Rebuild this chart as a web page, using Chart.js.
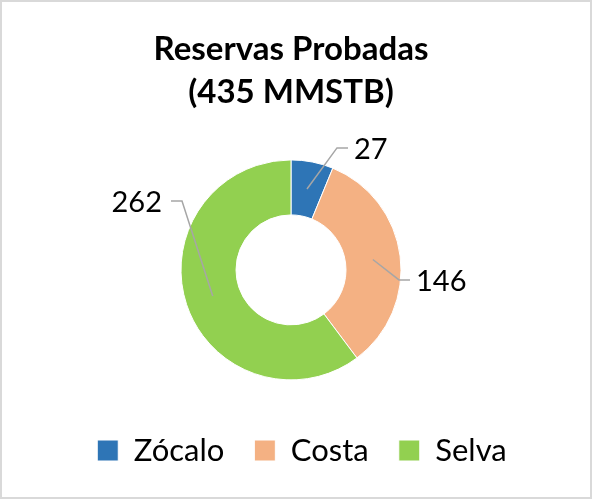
<!DOCTYPE html>
<html>
<head>
<meta charset="utf-8">
<script src="https://cdn.jsdelivr.net/npm/chart.js@4"></script>
<style>
  html, body { margin: 0; padding: 0; background: #fff; }
  #wrap { width: 592px; height: 499px; position: relative; }
</style>
</head>
<body>
<div id="wrap"><canvas id="chart" width="592" height="499"></canvas></div>
<script>
const regions = ['Zócalo', 'Costa', 'Selva'];
const reserves = [27, 146, 262];
const sliceColors = ['#2E75B6', '#F4B183', '#92D050'];
const titleLines = ['Reservas Probadas', '(435 MMSTB)'];

// elbow position of each leader line, relative to the donut centre
const leaderElbows = [[46, -122], [108, 10], [-109, -69]];

const fontFamily = 'Lato, "Noto Sans", sans-serif';

const frameBorder = {
    id: 'frameBorder',
    afterDraw(chart) {
        const ctx = chart.ctx;
        ctx.save();
        ctx.strokeStyle = '#d9d9d9';
        ctx.lineWidth = 2;
        ctx.strokeRect(1, 1, chart.width - 2, chart.height - 2);
        ctx.restore();
    }
};

// the legend sits a bit right of the donut in the original
const legendShift = {
    id: 'legendShift',
    afterLayout(chart) {
        chart.legend.left += 11;
        chart.legend.right += 11;
    }
};

const leaderLabels = {
    id: 'leaderLabels',
    afterDatasetsDraw(chart) {
        const ctx = chart.ctx;
        const meta = chart.getDatasetMeta(0);
        ctx.save();
        meta.data.forEach((arc, i) => {
            const p = arc.getProps(['x', 'y', 'startAngle', 'endAngle', 'innerRadius', 'outerRadius'], true);
            const mid = (p.startAngle + p.endAngle) / 2;
            const r = (p.innerRadius + p.outerRadius) / 2;
            const ax = p.x + Math.cos(mid) * r;
            const ay = p.y + Math.sin(mid) * r;
            const ex = p.x + leaderElbows[i][0];
            const ey = p.y + leaderElbows[i][1];
            const right = ex >= p.x;
            const hx = ex + (right ? 11 : -11);

            ctx.strokeStyle = '#a6a6a6';
            ctx.lineWidth = 1.5;
            ctx.beginPath();
            ctx.moveTo(ax, ay);
            ctx.lineTo(ex, ey);
            ctx.lineTo(hx, ey);
            ctx.stroke();

            ctx.fillStyle = '#000';
            ctx.font = '29px ' + fontFamily;
            ctx.textBaseline = 'middle';
            ctx.textAlign = right ? 'left' : 'right';
            ctx.fillText(String(chart.data.datasets[0].data[i]), hx + (right ? 6 : -9), ey + 2);
        });
        ctx.restore();
    }
};

new Chart(document.getElementById('chart'), {
    type: 'doughnut',
    data: {
        labels: regions,
        datasets: [{
            data: reserves,
            backgroundColor: sliceColors,
            borderColor: '#ffffff',
            borderWidth: 1,
            radius: 110,
            cutout: '50%'
        }]
    },
    options: {
        responsive: false,
        animation: false,
        layout: { padding: { top: 0, right: 10, bottom: 23, left: 0 } },
        plugins: {
            title: {
                display: true,
                text: titleLines,
                color: '#000',
                font: { family: fontFamily, size: 33, weight: 'bold', lineHeight: 1.3 },
                padding: { top: 28, bottom: 21 }
            },
            legend: {
                position: 'bottom',
                labels: {
                    color: '#000',
                    font: { family: fontFamily, size: 31 },
                    boxWidth: 21,
                    boxHeight: 21,
                    padding: 30
                }
            },
            tooltip: { enabled: false }
        }
    },
    plugins: [leaderLabels, legendShift, frameBorder]
});
</script>
</body>
</html>
